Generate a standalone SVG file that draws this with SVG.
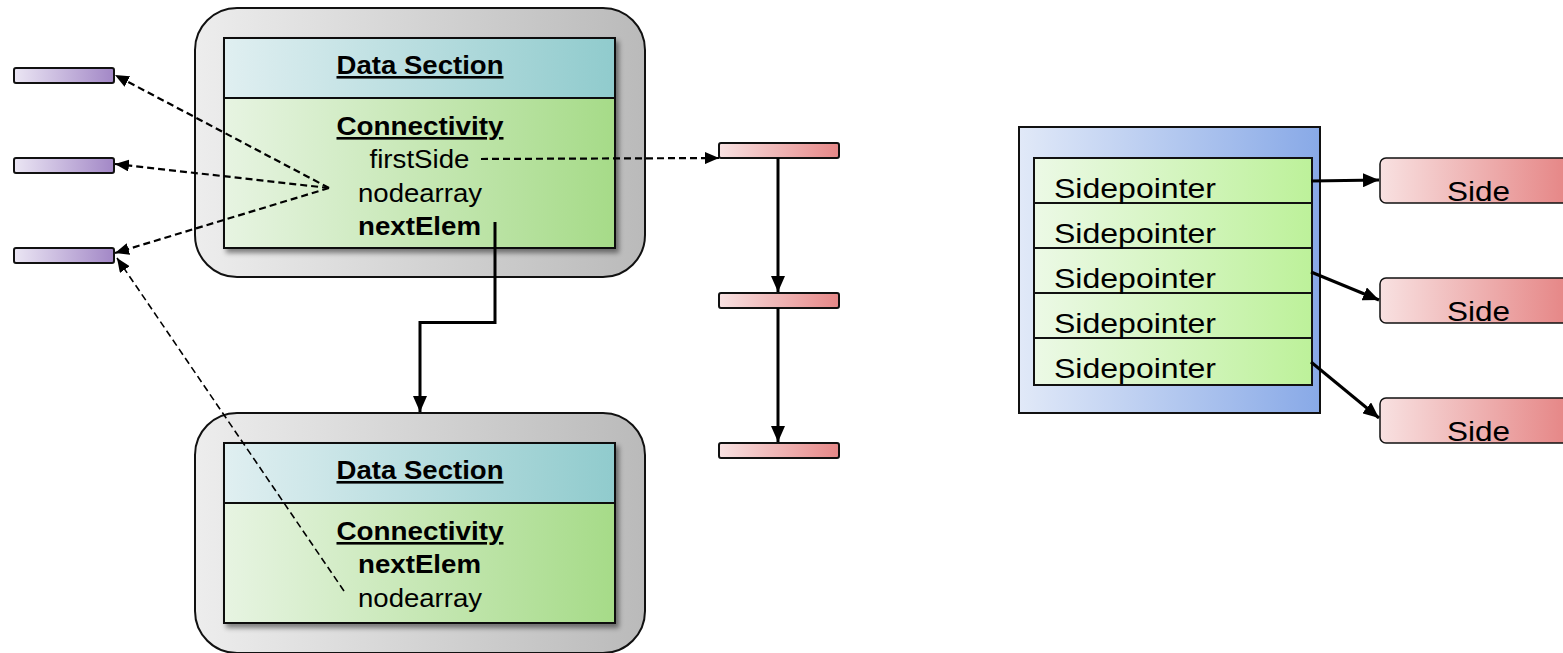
<svg xmlns="http://www.w3.org/2000/svg" width="1563" height="653" viewBox="0 0 1563 653">
<defs>
<linearGradient id="gGray" x1="0" y1="0" x2="1" y2="0"><stop offset="0" stop-color="#ededed"/><stop offset="1" stop-color="#bababa"/></linearGradient>
<linearGradient id="gHead" x1="0" y1="0" x2="1" y2="0"><stop offset="0" stop-color="#e0eff1"/><stop offset="1" stop-color="#90cbcd"/></linearGradient>
<linearGradient id="gBody" x1="0" y1="0" x2="1" y2="0"><stop offset="0" stop-color="#e7f4e2"/><stop offset="1" stop-color="#a6db88"/></linearGradient>
<linearGradient id="gPurple" x1="0" y1="0" x2="1" y2="0"><stop offset="0" stop-color="#ebe6f4"/><stop offset="1" stop-color="#a287c6"/></linearGradient>
<linearGradient id="gPink" x1="0" y1="0" x2="1" y2="0"><stop offset="0" stop-color="#f8e1e1"/><stop offset="1" stop-color="#e68888"/></linearGradient>
<linearGradient id="gSide" gradientUnits="userSpaceOnUse" x1="1380" y1="0" x2="1563" y2="0"><stop offset="0" stop-color="#f8e1e1"/><stop offset="1" stop-color="#e68888"/></linearGradient>
<linearGradient id="gBlue" x1="0" y1="0" x2="1" y2="0"><stop offset="0" stop-color="#e1e9f8"/><stop offset="1" stop-color="#88a9e7"/></linearGradient>
<linearGradient id="gRow" x1="0" y1="0" x2="1" y2="0"><stop offset="0" stop-color="#ecf9e6"/><stop offset="1" stop-color="#bdf19a"/></linearGradient>
<filter id="shadow" x="-10%" y="-10%" width="125%" height="130%"><feDropShadow dx="3" dy="4" stdDeviation="2.5" flood-color="#000" flood-opacity="0.45"/></filter>
<marker id="arr" viewBox="0 0 16 14" refX="16" refY="7" markerWidth="16" markerHeight="14" markerUnits="userSpaceOnUse" orient="auto"><path d="M0,0 L16,7 L0,14 z" fill="#000"/></marker>
<marker id="arrs" viewBox="0 0 14 12" refX="14" refY="6" markerWidth="14" markerHeight="12" markerUnits="userSpaceOnUse" orient="auto"><path d="M0,0 L14,6 L0,12 z" fill="#000"/></marker>
<style>
.outer{fill:url(#gGray);stroke:#111;stroke-width:2}
.head{fill:url(#gHead);stroke:#111;stroke-width:2}
.body{fill:url(#gBody);stroke:#111;stroke-width:2}
.purple{fill:url(#gPurple);stroke:#111;stroke-width:2}
.pink{fill:url(#gPink);stroke:#111;stroke-width:2}
.side{fill:url(#gSide);stroke:#111;stroke-width:1.5}
.row{fill:url(#gRow);stroke:#111;stroke-width:2}
.t{font-family:"Liberation Sans",Arial,sans-serif;fill:#000}
.b{font-weight:bold;font-size:26px;text-decoration:underline}
.bb{font-weight:bold;font-size:26px}
.r{font-size:26px}
.sp{font-size:28px}
.dash{fill:none;stroke:#000;stroke-width:2.2;stroke-dasharray:7 4}
.dash2{fill:none;stroke:#000;stroke-width:1.6;stroke-dasharray:7 4}
.solid{fill:none;stroke:#000;stroke-width:3}
</style>
</defs>
<rect width="1563" height="653" fill="#fff"/>

<g id="elem1">
<rect class="outer" x="195" y="8" width="450" height="269" rx="42"/>
<g filter="url(#shadow)">
<rect class="head" x="224" y="38" width="391" height="60"/>
<rect class="body" x="224" y="98" width="391" height="150"/>
</g>
<text class="t b" x="336.5" y="74" textLength="167" lengthAdjust="spacingAndGlyphs">Data Section</text>
<text class="t b" x="336.5" y="135" textLength="167" lengthAdjust="spacingAndGlyphs">Connectivity</text>
<text class="t r" x="369.5" y="168" textLength="100" lengthAdjust="spacingAndGlyphs">firstSide</text>
<text class="t r" x="358" y="202" textLength="124" lengthAdjust="spacingAndGlyphs">nodearray</text>
<text class="t bb" x="358" y="235" textLength="123" lengthAdjust="spacingAndGlyphs">nextElem</text>
</g>

<g id="elem2">
<rect class="outer" x="195" y="413" width="450" height="240" rx="42"/>
<g filter="url(#shadow)">
<rect class="head" x="224" y="443" width="391" height="60"/>
<rect class="body" x="224" y="503" width="391" height="120"/>
</g>
<text class="t b" x="336.5" y="479" textLength="167" lengthAdjust="spacingAndGlyphs">Data Section</text>
<text class="t b" x="336.5" y="540" textLength="167" lengthAdjust="spacingAndGlyphs">Connectivity</text>
<text class="t bb" x="358" y="573" textLength="123" lengthAdjust="spacingAndGlyphs">nextElem</text>
<text class="t r" x="358" y="607" textLength="124" lengthAdjust="spacingAndGlyphs">nodearray</text>
</g>

<g id="nodes-purple">
<rect class="purple" x="14" y="68" width="100" height="15" rx="2"/>
<rect class="purple" x="14" y="158" width="100" height="15" rx="2"/>
<rect class="purple" x="14" y="248" width="100" height="15" rx="2"/>
</g>

<g id="nodes-pink">
<rect class="pink" x="719" y="143" width="120" height="15" rx="2"/>
<rect class="pink" x="719" y="293" width="120" height="15" rx="2"/>
<rect class="pink" x="719" y="443" width="120" height="15" rx="2"/>
</g>

<g id="sidearray">
<rect x="1019" y="127" width="301" height="286" fill="url(#gBlue)" stroke="#111" stroke-width="2"/>
<rect class="row" x="1034" y="158" width="278" height="45"/>
<rect class="row" x="1034" y="203" width="278" height="45"/>
<rect class="row" x="1034" y="248" width="278" height="45"/>
<rect class="row" x="1034" y="293" width="278" height="45"/>
<rect class="row" x="1034" y="338" width="278" height="47"/>
<text class="t sp" x="1054" y="198" textLength="162" lengthAdjust="spacingAndGlyphs">Sidepointer</text>
<text class="t sp" x="1054" y="243" textLength="162" lengthAdjust="spacingAndGlyphs">Sidepointer</text>
<text class="t sp" x="1054" y="288" textLength="162" lengthAdjust="spacingAndGlyphs">Sidepointer</text>
<text class="t sp" x="1054" y="333" textLength="162" lengthAdjust="spacingAndGlyphs">Sidepointer</text>
<text class="t sp" x="1054" y="378" textLength="162" lengthAdjust="spacingAndGlyphs">Sidepointer</text>
</g>

<g id="side1">
<rect class="side" x="1380" y="158" width="200" height="45" rx="6"/>
<text class="t sp" x="1447" y="201" textLength="63" lengthAdjust="spacingAndGlyphs">Side</text>
</g>
<g id="side2">
<rect class="side" x="1380" y="278" width="200" height="45" rx="6"/>
<text class="t sp" x="1447" y="321" textLength="63" lengthAdjust="spacingAndGlyphs">Side</text>
</g>
<g id="side3">
<rect class="side" x="1380" y="398" width="200" height="45" rx="6"/>
<text class="t sp" x="1447" y="441" textLength="63" lengthAdjust="spacingAndGlyphs">Side</text>
</g>

<g id="connectors">
<line class="dash" x1="329" y1="188" x2="115" y2="75" marker-end="url(#arrs)"/>
<line class="dash" x1="329" y1="188" x2="115" y2="164" marker-end="url(#arrs)"/>
<line class="dash" x1="329" y1="188" x2="115" y2="253" marker-end="url(#arrs)"/>
<line class="dash2" x1="344" y1="591" x2="117" y2="258" marker-end="url(#arrs)"/>
<line class="dash" x1="481" y1="159" x2="719" y2="158" marker-end="url(#arrs)"/>
<path class="solid" d="M495,222 L495,322.5 L420,322.5 L420,412" marker-end="url(#arr)"/>
<line class="solid" x1="778" y1="158" x2="778" y2="292" marker-end="url(#arr)"/>
<line class="solid" x1="778" y1="308" x2="778" y2="442" marker-end="url(#arr)"/>
<line class="solid" x1="1311" y1="181" x2="1379" y2="180" marker-end="url(#arr)"/>
<line class="solid" x1="1311" y1="272" x2="1379" y2="300" marker-end="url(#arr)"/>
<line class="solid" x1="1311" y1="362" x2="1379" y2="418" marker-end="url(#arr)"/>
</g>
</svg>
